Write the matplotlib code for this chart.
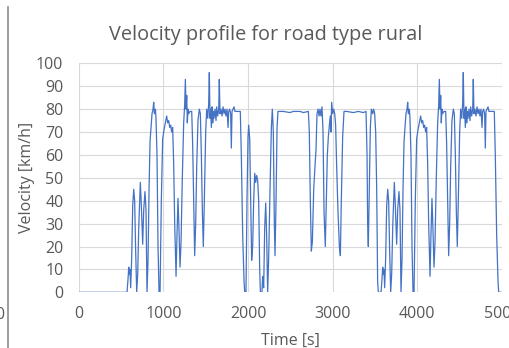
import numpy as np
import matplotlib.pyplot as plt

plt.rcParams.update({"font.family": ["Open Sans", "DejaVu Sans"], "font.size": 11})

TEXT = '#595959'
GRID = '#d9d9d9'
LINE = '#4472c4'

# idle phase at the start
idle_t = [0, 571]
idle_v = [0, 0]

# one rural driving cycle (it is driven twice)
cycle_t = [571, 583, 591, 598, 606, 614, 626, 638, 650, 661, 673, 685, 697, 709,
           728, 740, 756, 768, 783, 795, 807, 819, 831, 843, 854, 866, 878, 886,
           894, 906, 913, 925, 937, 949, 961, 976, 992, 1008, 1024, 1039, 1051,
           1063, 1075, 1087, 1098, 1110, 1122, 1134, 1150, 1161, 1173, 1185, 1197,
           1209, 1224, 1240, 1252, 1260, 1268, 1276, 1283, 1291, 1299, 1315, 1335,
           1346, 1358, 1370, 1382, 1394, 1409, 1425, 1437, 1449, 1461, 1472, 1484,
           1500, 1512, 1524, 1535, 1543, 1551, 1559, 1567, 1575, 1583, 1591, 1598,
           1610, 1622, 1630, 1642, 1654, 1661, 1669, 1681, 1693, 1705, 1717, 1728,
           1740, 1752, 1764, 1772, 1783, 1795, 1803, 1811, 1823, 1835, 1846, 1866,
           1886, 1909, 1921, 1937, 1953, 1961]
cycle_v = [0, 6, 11, 8, 10, 2, 15, 38, 45, 40, 18, 0, 8, 28,
           48, 38, 21, 36, 44, 36, 0, 14, 45, 66, 72, 78, 80, 83,
           78, 80, 76, 60, 20, 0, 0, 40, 67, 71, 74, 77, 74,
           75, 72, 73, 70, 72, 56, 30, 7, 25, 41, 27, 11,
           22, 50, 74, 82, 93, 80, 86, 74, 80, 78, 79, 79,
           65, 40, 16, 30, 55, 75, 80, 78, 60, 35, 20, 40,
           70, 80, 76, 82, 96, 76, 80, 72, 81, 74, 79, 76,
           80, 75, 81, 77, 80, 93, 78, 80, 77, 81, 78, 80,
           77, 80, 72, 79, 80, 78, 63, 79, 80, 81, 79, 79,
           79, 79, 60, 25, 5, 0]

# part between the two cycles
mid_t = [1976, 1988, 2000, 2008, 2020, 2032, 2043, 2055, 2067, 2079, 2091, 2102,
         2114, 2126, 2138, 2146, 2165, 2173, 2185, 2197, 2209, 2220, 2232, 2244,
         2260, 2276, 2287, 2299, 2311, 2319, 2331, 2343, 2354, 2417, 2496, 2535,
         2614, 2654, 2713, 2724, 2736, 2748, 2760, 2776, 2791, 2803, 2815, 2827,
         2839, 2850, 2862, 2874, 2886, 2898, 2913, 2925, 2937, 2949, 2961, 2972,
         2980, 2988, 3000, 3012, 3024, 3035, 3047, 3063, 3079, 3091, 3102, 3118,
         3134, 3165, 3244, 3303, 3362, 3394, 3406, 3413, 3421, 3433, 3445, 3457,
         3473, 3484, 3496, 3508, 3520, 3531, 3539]
mid_v = [0, 40, 68, 73, 67, 40, 14, 20, 40, 52, 48, 51,
         49, 40, 10, 0, 0, 7, 2, 28, 39, 25, 0, 15,
         45, 72, 80, 70, 30, 16, 40, 72, 79, 79, 78.5, 79,
         79, 78.5, 79, 70, 40, 18, 22, 45, 55, 62, 78, 80,
         77, 80, 77, 81, 70, 35, 20, 40, 60, 68, 73, 77,
         70, 83, 78, 80, 78, 73, 55, 35, 20, 16, 40, 68,
         79, 79, 78.5, 79, 78.5, 79, 60, 30, 20, 45, 72, 80,
         78, 80, 78, 70, 45, 5, 0]

cycle_shift = 3000  # second run of the cycle starts 3000 s later

end_t = [4961, 4990]
end_v = [0, 0]

time = np.concatenate([idle_t, cycle_t, mid_t,
                       np.array(cycle_t) + cycle_shift, end_t])
speed = np.concatenate([idle_v, cycle_v, mid_v, cycle_v, end_v])

fig = plt.figure(figsize=(5.10, 3.48), dpi=100)
ax = fig.add_axes([0.1543, 0.16, 0.83, 0.658])

ax.plot(time, speed, color=LINE, lw=0.9, zorder=3)

ax.set_xlim(0, 5000)
ax.set_ylim(0, 100)
ax.set_xticks(range(0, 5001, 1000))
ax.set_yticks(range(0, 101, 10))
ax.grid(True, color=GRID, lw=0.8)
for s in ax.spines.values():
    s.set_visible(False)
ax.tick_params(length=0, colors=TEXT, labelsize=11.5)
ax.tick_params(axis='y', pad=11)
ax.tick_params(axis='x', pad=10)

# title sits a bit left of the plot centre, like in the original
fig.text(266 / 510, 1 - 35 / 348, 'Velocity profile for road type rural',
         ha='center', va='center', color=TEXT, fontsize=14.3)
ax.set_xlabel('Time [s]', color=TEXT, fontsize=11.5, labelpad=8)
ax.set_ylabel('Velocity [km/h]', color=TEXT, fontsize=11.5, labelpad=1)

# edge of the neighbouring chart that is cut off on the left
fig.add_artist(plt.Line2D([0.0163, 0.0163], [0.0, 0.98], color='#8c8c8c', lw=1.2))
fig.text(0.0, 1 - 315 / 348, '0', ha='center', va='center', color=TEXT, fontsize=11.5)

fig.savefig('out.png', dpi=100)
